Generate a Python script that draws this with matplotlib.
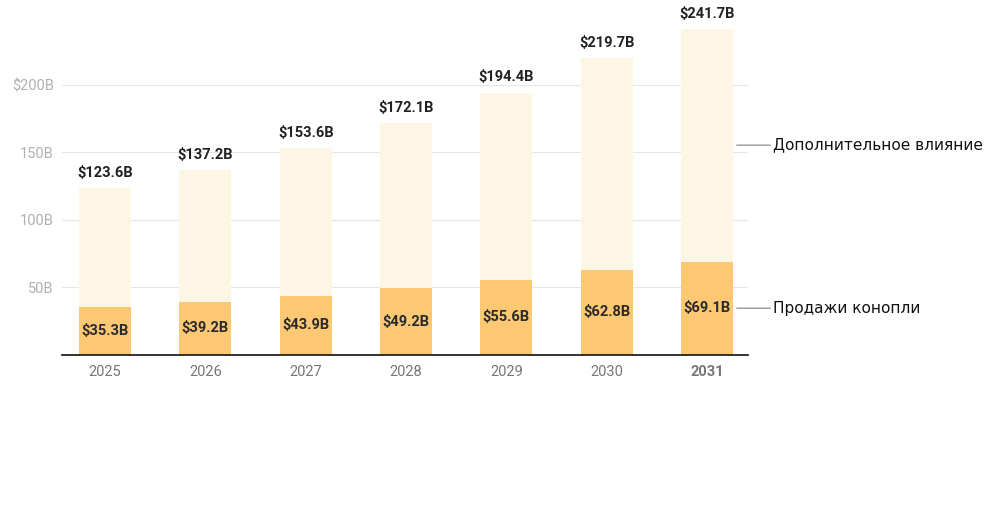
import numpy as np
import matplotlib.pyplot as plt

plt.rcParams['font.family'] = ['Roboto', 'DejaVu Sans']

# data
years = ["2025", "2026", "2027", "2028", "2029", "2030", "2031"]
sales = [35.3, 39.2, 43.9, 49.2, 55.6, 62.8, 69.1]
totals = [123.6, 137.2, 153.6, 172.1, 194.4, 219.7, 241.7]
series_names = ["Продажи конопли", "Дополнительное влияние"]
ytick_vals = [50, 100, 150, 200]
ytick_labels = ["50B", "100B", "150B", "$200B"]

extra = [t - s for t, s in zip(totals, sales)]
x = np.arange(len(years))

fig = plt.figure(figsize=(10, 5.15), dpi=100)
ax = fig.add_axes([0.062, 0.311, 0.686, 0.689])

ax.bar(x, sales, width=0.52, color="#fcc873", zorder=2)
ax.bar(x, extra, bottom=sales, width=0.52, color="#fef6e4", zorder=2)

for xi, s, t in zip(x, sales, totals):
    ax.text(xi, s / 2, f"${s}B", ha="center", va="center",
            fontsize=10.5, fontweight="bold", color="#2a2a2a", zorder=3)
    ax.text(xi, t + 6, f"${t}B", ha="center", va="bottom",
            fontsize=10.5, fontweight="bold", color="#222222", zorder=3)

ax.set_xlim(-0.43, len(years) - 1 + 0.41)
ax.set_ylim(0, 263)
ax.set_yticks(ytick_vals)
ax.set_yticklabels(ytick_labels)
ax.set_xticks(x)
ax.set_xticklabels(years)
for lbl in ax.get_xticklabels():
    lbl.set_color("#777777")
    lbl.set_fontsize(10.5)
ax.get_xticklabels()[-1].set_fontweight("bold")
ax.tick_params(axis="y", length=0, labelsize=10.5, labelcolor="#b0b0b0", pad=6)
ax.tick_params(axis="x", length=0, pad=7)
ax.grid(axis="y", color="#e6e6e6", linewidth=0.8, zorder=0)
for sp in ["top", "right", "left"]:
    ax.spines[sp].set_visible(False)
ax.spines["bottom"].set_color("#111111")
ax.spines["bottom"].set_linewidth(1.2)

# labels on the right, leader lines from last bar
last = len(years) - 1
mids = [sales[last] / 2, sales[last] + extra[last] / 2]
for name, m in zip(series_names, mids):
    ax.annotate(name, xy=(last + 0.27, m), xycoords="data",
                xytext=(last + 0.66, m), textcoords="data",
                ha="left", va="center", fontsize=11.1, color="#111111",
                family="DejaVu Sans",
                arrowprops=dict(arrowstyle="-", color="#999999", lw=1,
                                shrinkA=0, shrinkB=2),
                annotation_clip=False)

fig.savefig("out.png", dpi=100, facecolor="white")
